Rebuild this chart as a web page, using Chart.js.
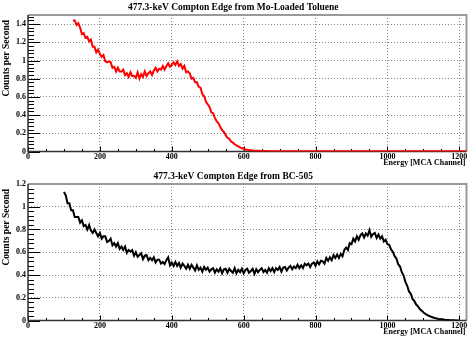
<!DOCTYPE html>
<html>
<head>
<meta charset="utf-8">
<script src="https://cdn.jsdelivr.net/npm/chart.js@4.4.1/dist/chart.umd.min.js"></script>
<style>
  body { margin: 0; background: #fff; }
  canvas { display: block; }
</style>
</head>
<body>
<canvas id="moChart" width="471" height="169"></canvas>
<canvas id="bcChart" width="471" height="169"></canvas>
<script>
// histogram bins are 5 MCA channels wide
const binWidth = 5;

// Mo-loaded toluene, first bin at channel 125
const moStart = 125;
const moCounts = [
  1.44, 1.44, 1.39, 1.41, 1.36, 1.29, 1.30, 1.25, 1.26, 1.21,
  1.23, 1.15, 1.15, 1.09, 1.12, 1.07, 1.04, 1.06, 0.99, 0.98,
  0.99, 0.98, 0.92, 0.93, 0.88, 0.92, 0.88, 0.88, 0.90, 0.84,
  0.86, 0.82, 0.87, 0.83, 0.83, 0.81, 0.87, 0.80, 0.85, 0.82,
  0.88, 0.83, 0.86, 0.88, 0.84, 0.89, 0.92, 0.88, 0.91, 0.90,
  0.94, 0.90, 0.94, 0.97, 0.93, 0.95, 0.98, 0.95, 0.99, 0.94,
  0.96, 0.91, 0.94, 0.87, 0.88, 0.86, 0.80, 0.81, 0.76, 0.76,
  0.71, 0.70, 0.63, 0.61, 0.55, 0.52, 0.49, 0.43, 0.42, 0.37,
  0.33, 0.31, 0.27, 0.235, 0.215, 0.18, 0.15, 0.14, 0.11, 0.097,
  0.080, 0.066, 0.056, 0.046, 0.036, 0.031, 0.023, 0.020, 0.015, 0.013,
  0.011, 0.009, 0.008, 0.007, 0.005, 0.005,
  0.005, 0.005, 0.004, 0.005, 0.004, 0.004, 0.003, 0.004, 0.004, 0.003,
  0.003, 0.004, 0.003, 0.003, 0.003, 0.004, 0.003, 0.003, 0.002, 0.003,
  0.003, 0.003, 0.002, 0.003, 0.003, 0.002, 0.003, 0.002, 0.003, 0.002,
  0.002, 0.003, 0.002, 0.002, 0.003, 0.002, 0.002, 0.002, 0.003, 0.002,
  0.002, 0.002, 0.003, 0.002, 0.002, 0.002, 0.002, 0.003, 0.002, 0.002,
  0.002, 0.002, 0.002, 0.003, 0.002, 0.002, 0.002, 0.002, 0.002, 0.003,
  0.002, 0.002, 0.002, 0.002, 0.003, 0.002, 0.002, 0.002, 0.002, 0.002,
  0.002, 0.003, 0.002, 0.002, 0.002, 0.002, 0.002, 0.002, 0.003, 0.002,
  0.002, 0.002, 0.002, 0.002, 0.002, 0.003, 0.002, 0.002, 0.002, 0.002,
  0.002, 0.002, 0.003, 0.002, 0.002, 0.002, 0.002, 0.002, 0.002, 0.002,
  0.002, 0.002, 0.002, 0.003, 0.002, 0.002, 0.002, 0.002, 0.002, 0.002,
  0.002, 0.002, 0.002, 0.002
];

// BC-505, first bin at channel 100
const bcStart = 100;
const bcCounts = [
  1.13, 1.10, 1.03, 1.03, 0.97, 0.97, 0.91, 0.91, 0.91, 0.86,
  0.88, 0.83, 0.84, 0.80, 0.84, 0.79, 0.77, 0.80, 0.77, 0.74,
  0.77, 0.72, 0.74, 0.74, 0.69, 0.70, 0.72, 0.66, 0.68, 0.65,
  0.68, 0.63, 0.65, 0.62, 0.65, 0.595, 0.62, 0.605, 0.62, 0.57,
  0.60, 0.56, 0.575, 0.59, 0.54, 0.57, 0.575, 0.53, 0.55, 0.53,
  0.555, 0.51, 0.535, 0.535, 0.50, 0.515, 0.495, 0.53, 0.555, 0.485,
  0.51, 0.48, 0.515, 0.48, 0.505, 0.465, 0.50, 0.48, 0.455, 0.49,
  0.455, 0.49, 0.465, 0.44, 0.485, 0.445, 0.465, 0.43, 0.47, 0.445,
  0.465, 0.43, 0.45, 0.46, 0.42, 0.45, 0.43, 0.46, 0.415, 0.45,
  0.455, 0.42, 0.455, 0.435, 0.42, 0.46, 0.415, 0.445, 0.425, 0.455,
  0.415, 0.445, 0.455, 0.42, 0.435, 0.455, 0.41, 0.45, 0.425, 0.445,
  0.46, 0.425, 0.445, 0.42, 0.46, 0.435, 0.46, 0.425, 0.46, 0.445,
  0.47, 0.43, 0.465, 0.47, 0.44, 0.465, 0.48, 0.45, 0.475, 0.46,
  0.49, 0.46, 0.485, 0.46, 0.50, 0.485, 0.50, 0.47, 0.50, 0.51,
  0.48, 0.52, 0.495, 0.525, 0.52, 0.50, 0.55, 0.525, 0.555, 0.53,
  0.575, 0.55, 0.58, 0.55, 0.585, 0.565, 0.62, 0.64, 0.62, 0.68,
  0.67, 0.72, 0.695, 0.74, 0.71, 0.75, 0.765, 0.73, 0.765, 0.745,
  0.795, 0.735, 0.76, 0.77, 0.725, 0.755, 0.72, 0.74, 0.695, 0.71,
  0.67, 0.665, 0.625, 0.605, 0.565, 0.545, 0.495, 0.475, 0.425, 0.395,
  0.34, 0.305, 0.255, 0.235, 0.19, 0.17, 0.14, 0.125, 0.10, 0.087,
  0.072, 0.060, 0.050, 0.042, 0.035, 0.029, 0.024, 0.019, 0.015, 0.012,
  0.010, 0.008, 0.006, 0.005, 0.004, 0.003, 0.002, 0.002, 0.001, 0.001,
  0.001
];

const xTickValues = [0, 200, 400, 600, 800, 1000, 1200];
const yTickValuesMo = [0, 0.2, 0.4, 0.6, 0.8, 1, 1.2, 1.4];
const yTickValuesBc = [0, 0.2, 0.4, 0.6, 0.8, 1, 1.2];

const serif = "'Liberation Serif', 'DejaVu Serif', serif";

function toPoints(start, counts) {
  return counts.map((c, i) => ({ x: start + i * binWidth, y: c }));
}

// ROOT style frame: inward ticks, shaded border, axis titles
const rootFrame = {
  id: 'rootFrame',
  beforeDatasetsDraw(chart) {
    const { ctx, chartArea: a, scales: { x, y } } = chart;
    ctx.save();
    ctx.strokeStyle = '#000';
    ctx.lineWidth = 1;
    ctx.beginPath();
    for (let i = 0; i * 0.04 <= y.max + 1e-9; i++) {
      const py = Math.round(y.getPixelForValue(i * 0.04)) + 0.5;
      const len = i % 5 === 0 ? 12 : 6;
      ctx.moveTo(a.left, py);
      ctx.lineTo(a.left + len, py);
    }
    for (let ch = 0; ch <= x.max; ch += 50) {
      const px = Math.round(x.getPixelForValue(ch)) + 0.5;
      const len = ch % 200 === 0 ? 5 : 2.5;
      ctx.moveTo(px, a.bottom);
      ctx.lineTo(px, a.bottom - len);
    }
    ctx.stroke();

    ctx.lineWidth = 2;
    ctx.strokeStyle = '#9a9a9a';
    ctx.beginPath();
    ctx.moveTo(a.left, a.top);
    ctx.lineTo(a.right, a.top);
    ctx.lineTo(a.right, a.bottom);
    ctx.stroke();
    ctx.strokeStyle = '#333';
    ctx.lineWidth = 1.5;
    ctx.beginPath();
    ctx.moveTo(a.left, a.top);
    ctx.lineTo(a.left, a.bottom);
    ctx.lineTo(a.right, a.bottom);
    ctx.stroke();
    ctx.restore();
  },
  afterDraw(chart) {
    const { ctx, chartArea: a } = chart;
    ctx.save();
    ctx.fillStyle = '#000';
    ctx.font = 'bold 8px ' + serif;
    ctx.textAlign = 'right';
    ctx.textBaseline = 'alphabetic';
    ctx.fillText('Energy [MCA Channel]', a.right - 1, a.bottom + 13.5);
    ctx.translate(8.5, a.top + 5);
    ctx.rotate(-Math.PI / 2);
    ctx.font = 'bold 9.5px ' + serif;
    ctx.textAlign = 'right';
    ctx.fillText('Counts per Second', 0, 0);
    ctx.restore();
  }
};

function makeChart(id, title, points, color, yMax, yTicks) {
  return new Chart(document.getElementById(id), {
    type: 'line',
    data: {
      datasets: [{
        data: points,
        borderColor: color,
        borderWidth: 2,
        pointRadius: 0,
        fill: false
      }]
    },
    options: {
      responsive: false,
      animation: false,
      devicePixelRatio: 1,
      layout: { padding: { left: 0, right: 4.5, top: 0, bottom: 0 } },
      plugins: {
        legend: { display: false },
        tooltip: { enabled: false },
        title: {
          display: true,
          text: title,
          color: '#000',
          font: { family: serif, size: 9.5, weight: 'bold', lineHeight: 1.2 },
          padding: { top: 1.8, bottom: 1.8 }
        }
      },
      scales: {
        x: {
          type: 'linear',
          min: 0,
          max: 1220,
          afterBuildTicks: s => { s.ticks = xTickValues.map(v => ({ value: v })); },
          afterFit: s => { s.height = 17.5; },
          ticks: {
            color: '#000',
            padding: 1,
            maxRotation: 0,
            font: { family: serif, size: 8, weight: 'bold' },
            callback: v => String(v)
          },
          grid: { color: '#888', lineWidth: 1, drawTicks: false },
          border: { display: false, dash: [1, 2] }
        },
        y: {
          min: 0,
          max: yMax,
          afterBuildTicks: s => { s.ticks = yTicks.map(v => ({ value: v })); },
          afterFit: s => { s.width = 28; },
          ticks: {
            color: '#000',
            padding: 2,
            font: { family: serif, size: 8, weight: 'bold' },
            callback: v => String(parseFloat(v.toFixed(1)))
          },
          grid: { color: '#888', lineWidth: 1, drawTicks: false },
          border: { display: false, dash: [1, 2] }
        }
      }
    },
    plugins: [rootFrame]
  });
}

makeChart('moChart', '477.3-keV Compton Edge from Mo-Loaded Toluene',
  toPoints(moStart, moCounts), '#ff0000', 1.5, yTickValuesMo);
makeChart('bcChart', '477.3-keV Compton Edge from BC-505',
  toPoints(bcStart, bcCounts), '#000000', 1.2, yTickValuesBc);
</script>
</body>
</html>
